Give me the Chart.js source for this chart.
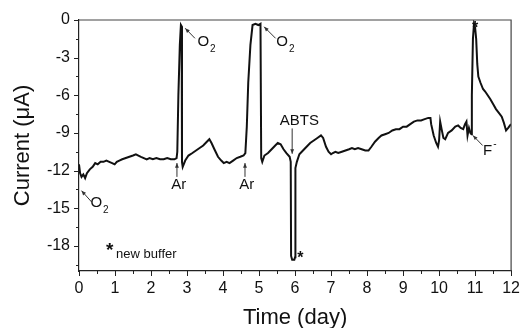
<!DOCTYPE html>
<html>
<head>
<meta charset="utf-8">
<script src="https://cdn.jsdelivr.net/npm/chart.js@4"></script>
<style>
  html, body { margin: 0; padding: 0; background: #fff; }
  canvas { display: block; }
</style>
</head>
<body>
<canvas id="c" width="528" height="328"></canvas>
<script>
// --- data (day, µA) ---
const days = [
  0.00, 0.03, 0.07, 0.12, 0.17, 0.22, 0.30, 0.38, 0.45, 0.52, 0.60, 0.68, 0.76, 0.84, 0.92, 0.99,
  1.05, 1.12, 1.20, 1.30, 1.40, 1.50, 1.58, 1.65, 1.72, 1.80, 1.88, 1.96, 2.05, 2.15, 2.25, 2.35,
  2.45, 2.55, 2.65, 2.71, 2.73, 2.76, 2.80, 2.83, 2.85, 2.86, 2.88, 2.95, 3.04, 3.15, 3.25, 3.35,
  3.45, 3.55, 3.62, 3.68, 3.76, 3.86, 3.95, 4.02, 4.10, 4.18, 4.28, 4.38, 4.48, 4.57, 4.62, 4.66,
  4.70, 4.76, 4.82, 4.90, 4.98, 5.04, 5.06, 5.09, 5.15, 5.25, 5.35, 5.45, 5.52, 5.60, 5.68, 5.76,
  5.85, 5.88, 5.89, 5.92, 5.98, 6.00, 6.01, 6.05, 6.12, 6.22, 6.32, 6.42, 6.52, 6.62, 6.72, 6.78,
  6.86, 6.93, 7.00, 7.05, 7.12, 7.20, 7.30, 7.40, 7.50, 7.58, 7.66, 7.75, 7.85, 7.95, 8.04, 8.12,
  8.22, 8.32, 8.40, 8.50, 8.60, 8.70, 8.80, 8.90, 9.00, 9.10, 9.20, 9.30, 9.40, 9.50, 9.60, 9.70,
  9.76, 9.78, 9.85, 9.92, 9.97, 10.00, 10.03, 10.07, 10.12, 10.17, 10.25, 10.35, 10.45, 10.53, 10.60, 10.67,
  10.72, 10.76, 10.79, 10.83, 10.87, 10.90, 10.91, 10.94, 10.97, 11.00, 11.03, 11.06, 11.09, 11.15, 11.22, 11.28,
  11.35, 11.42, 11.50, 11.58, 11.66, 11.74, 11.80, 11.86, 11.92, 11.97, 12.00
];
const current = [
  -11.5, -12.2, -12.5, -12.3, -12.6, -12.2, -11.9, -11.7, -11.4, -11.5, -11.3, -11.3, -11.2, -11.3, -11.4, -11.5,
  -11.3, -11.2, -11.1, -11.0, -10.9, -10.8, -10.7, -10.8, -10.9, -11.0, -11.1, -11.0, -11.1, -11.0, -11.1, -11.1,
  -11.0, -11.1, -11.1, -11.0, -10.5, -6.0, -2.0, -0.4, -0.5, -11.3, -11.7, -11.2, -10.8, -10.6, -10.4, -10.2,
  -10.0, -9.7, -9.5, -9.8, -10.3, -10.9, -11.2, -11.4, -11.3, -11.4, -11.2, -11.0, -10.9, -10.8, -10.6, -8.5,
  -5.0, -2.0, -0.4, -0.3, -0.4, -0.3, -11.0, -11.3, -10.8, -10.6, -10.3, -10.0, -9.8, -9.9, -10.3, -10.6,
  -10.9, -11.3, -18.8, -19.1, -19.1, -18.9, -11.8, -11.3, -10.7, -10.4, -10.1, -9.8, -9.6, -9.4, -9.2, -9.4,
  -10.1, -10.5, -10.7, -10.6, -10.5, -10.6, -10.5, -10.4, -10.3, -10.2, -10.3, -10.2, -10.3, -10.4, -10.4, -10.1,
  -9.7, -9.4, -9.2, -9.1, -9.0, -8.8, -8.7, -8.7, -8.5, -8.5, -8.3, -8.1, -8.0, -8.0, -7.9, -7.8,
  -7.8, -8.3, -9.2, -9.8, -10.1, -9.6, -8.1, -8.7, -9.4, -9.5, -9.0, -8.8, -8.5, -8.4, -8.6, -8.7,
  -8.3, -8.1, -9.2, -8.6, -9.0, -9.1, -6.0, -1.5, -0.3, -0.6, -1.5, -3.5, -4.5, -5.0, -5.5, -5.7,
  -6.0, -6.3, -6.7, -7.1, -7.4, -7.7, -8.2, -8.8, -8.6, -8.4, -8.3
];

const xTicks = [0, 1, 2, 3, 4, 5, 6, 7, 8, 9, 10, 11, 12];
const xMinorTicks = [0.5, 1.5, 2.5, 3.5, 4.5, 5.5, 6.5, 7.5, 8.5, 9.5, 10.5, 11.5];
const yTicks = [0, -3, -6, -9, -12, -15, -18];
const yMinorTicks = [-1.5, -4.5, -7.5, -10.5, -13.5, -16.5, -19.5];

// annotations, anchored in data units
const arrows = [
  { from: [0.35, -14.5], to: [0.07, -13.6] },
  { from: [3.22, -1.46], to: [2.95, -0.66] },
  { from: [5.46, -1.46], to: [5.14, -0.54] },
  { from: [2.72, -12.5], to: [2.72, -11.4] },
  { from: [4.61, -12.5], to: [4.61, -11.4] },
  { from: [5.92, -8.64], to: [5.92, -10.66] },
  { from: [11.21, -10.0], to: [10.94, -9.2] },
];
const labels = [
  { text: 'O', sub: '2', at: [0.48, -14.6] },
  { text: 'O', sub: '2', at: [3.45, -1.74] },
  { text: 'O', sub: '2', at: [5.64, -1.74] },
  { text: 'Ar', at: [2.77, -13.1] },
  { text: 'Ar', at: [4.66, -13.1] },
  { text: 'ABTS', at: [6.12, -8.0] },
  { text: 'F', sup: '-', at: [11.35, -10.4] },
];
const stars = [[6.15, -18.66], [11.0, -0.35]];
const noteStar = [0.85, -18.1];
const noteText = 'new buffer';
const noteAt = [1.03, -18.7];

const FONT = '"Liberation Sans", Arial, sans-serif';
const INK = '#111';

function arrowTo(ctx, x1, y1, x2, y2) {
  const a = Math.atan2(y2 - y1, x2 - x1);
  ctx.beginPath();
  ctx.moveTo(x1, y1);
  ctx.lineTo(x2, y2);
  ctx.stroke();
  ctx.beginPath();
  ctx.moveTo(x2, y2);
  ctx.lineTo(x2 - 5 * Math.cos(a - 0.4), y2 - 5 * Math.sin(a - 0.4));
  ctx.lineTo(x2 - 5 * Math.cos(a + 0.4), y2 - 5 * Math.sin(a + 0.4));
  ctx.closePath();
  ctx.fill();
}

const decor = {
  id: 'decor',
  afterDraw(chart) {
    const { ctx, chartArea: a, scales: { x, y } } = chart;
    ctx.save();
    // frame top/right
    ctx.strokeStyle = '#444';
    ctx.lineWidth = 1.2;
    ctx.beginPath();
    ctx.moveTo(a.left, a.top); ctx.lineTo(a.right, a.top); ctx.lineTo(a.right, a.bottom);
    ctx.stroke();
    // ticks (outward)
    ctx.strokeStyle = '#222';
    ctx.lineWidth = 1;
    ctx.beginPath();
    xTicks.forEach(v => { const p = Math.round(x.getPixelForValue(v)) + 0.5; ctx.moveTo(p, a.bottom); ctx.lineTo(p, a.bottom + 5); });
    xMinorTicks.forEach(v => { const p = Math.round(x.getPixelForValue(v)) + 0.5; ctx.moveTo(p, a.bottom); ctx.lineTo(p, a.bottom + 3); });
    yTicks.forEach(v => { const p = Math.round(y.getPixelForValue(v)) + 0.5; ctx.moveTo(a.left, p); ctx.lineTo(a.left - 5, p); });
    yMinorTicks.forEach(v => { const p = Math.round(y.getPixelForValue(v)) + 0.5; ctx.moveTo(a.left, p); ctx.lineTo(a.left - 3, p); });
    ctx.stroke();

    // arrows
    ctx.strokeStyle = '#333';
    ctx.fillStyle = '#333';
    ctx.lineWidth = 1;
    arrows.forEach(ar => {
      arrowTo(ctx, x.getPixelForValue(ar.from[0]), y.getPixelForValue(ar.from[1]),
        x.getPixelForValue(ar.to[0]), y.getPixelForValue(ar.to[1]));
    });

    // labels
    ctx.fillStyle = INK;
    ctx.textBaseline = 'middle';
    labels.forEach(l => {
      const px = x.getPixelForValue(l.at[0]);
      const py = y.getPixelForValue(l.at[1]);
      ctx.font = `15px ${FONT}`;
      ctx.textAlign = 'center';
      ctx.fillText(l.text, px, py);
      const w = ctx.measureText(l.text).width;
      ctx.font = `10px ${FONT}`;
      ctx.textAlign = 'left';
      if (l.sub) ctx.fillText(l.sub, px + w / 2 + 1, py + 7);
      if (l.sup) ctx.fillText(l.sup, px + w / 2 + 1, py - 6);
    });
    ctx.font = `bold 16px ${FONT}`;
    ctx.textAlign = 'center';
    stars.forEach(s => ctx.fillText('*', x.getPixelForValue(s[0]), y.getPixelForValue(s[1]) + 4));
    ctx.font = `bold 19px ${FONT}`;
    ctx.fillText('*', x.getPixelForValue(noteStar[0]), y.getPixelForValue(noteStar[1]) + 4);
    ctx.font = `13px ${FONT}`;
    ctx.textAlign = 'left';
    ctx.fillText(noteText, x.getPixelForValue(noteAt[0]), y.getPixelForValue(noteAt[1]));
    ctx.restore();
  },
};

new Chart(document.getElementById('c'), {
  type: 'scatter',
  data: {
    datasets: [{
      data: days.map((d, i) => ({ x: d, y: current[i] })),
      showLine: true,
      borderColor: INK,
      borderWidth: 2,
      pointRadius: 0,
      tension: 0,
    }],
  },
  options: {
    responsive: false,
    animation: false,
    layout: { padding: { left: 0, right: 11, top: 20, bottom: 0 } },
    plugins: { legend: { display: false }, tooltip: { enabled: false } },
    scales: {
      x: {
        type: 'linear', min: 0, max: 12,
        afterBuildTicks: (s) => { s.ticks = xTicks.map(v => ({ value: v })); },
        afterFit: (s) => { s.height = 57; },
        grid: { display: false, drawTicks: false },
        border: { display: true, color: '#222', width: 1.2 },
        ticks: { color: INK, padding: 8, font: { family: FONT, size: 16 }, maxRotation: 0, autoSkip: false, callback: (v) => String(v) },
        title: { display: true, text: 'Time (day)', color: INK, font: { family: FONT, size: 22, lineHeight: 0.9 }, padding: { top: 0, bottom: 0 } },
      },
      y: {
        type: 'linear', min: -20, max: 0,
        afterBuildTicks: (s) => { s.ticks = yTicks.map(v => ({ value: v })); },
        afterFit: (s) => { s.width = 79; },
        grid: { display: false, drawTicks: false },
        border: { display: true, color: '#222', width: 1.2 },
        ticks: { color: INK, padding: 9, font: { family: FONT, size: 16 }, autoSkip: false, callback: (v) => String(v) },
        title: { display: true, text: 'Current (μA)', color: INK, font: { family: FONT, size: 22, lineHeight: 1 }, padding: { top: 12, bottom: 0 } },
      },
    },
  },
  plugins: [decor],
});
</script>
</body>
</html>
